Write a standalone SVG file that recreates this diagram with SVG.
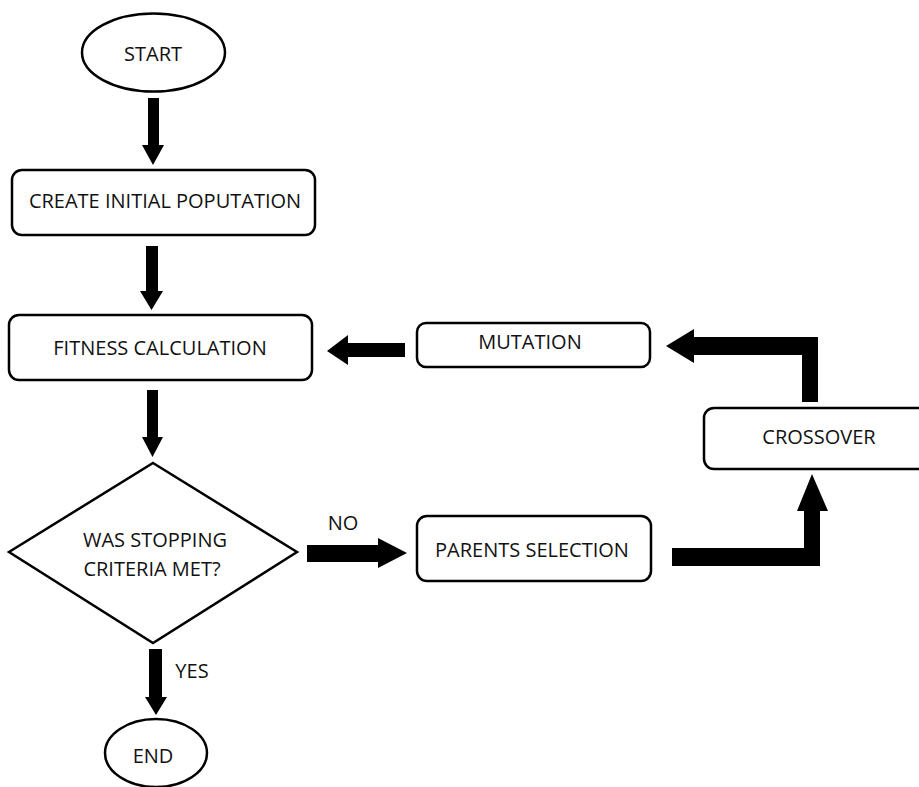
<svg xmlns="http://www.w3.org/2000/svg" width="919" height="787" viewBox="0 0 919 787">
<style>
.shape{fill:#fff;stroke:#000;stroke-width:2.5}
.lbl{font-family:"Open Sans","Liberation Sans",sans-serif;font-size:20px;fill:#111;text-anchor:middle}
.arr{fill:#000;stroke:none}
</style>
<rect width="919" height="787" fill="#fff"/>
<g id="connectors">
<polygon class="arr" points="148,98 159,98 159,145 164,145 153,165 142,145 148,145"/>
<polygon class="arr" points="146,246 158,246 158,291 163,291 151.5,310 140,291 146,291"/>
<polygon class="arr" points="147,390 158,390 158,437 163,437 152.5,457 142,437 147,437"/>
<polygon class="arr" points="149,649 162,649 162,697 167,697 156,715 145,697 149,697"/>
<polygon class="arr" points="405,343 405,357 348,357 348,365 327,351 348,335 348,343"/>
<polygon class="arr" points="307,545 378,545 378,538 407,553 378,568 378,562 307,562"/>
<polygon class="arr" points="802,402 818,402 818,337 694,337 694,329 666,346 694,363 694,355 802,355"/>
<polygon class="arr" points="672,548 804,548 804,511 797,511 812,474 828,511 820,511 820,566 672,566"/>
<text class="lbl" x="343" y="530">NO</text>
<text class="lbl" x="192" y="678">YES</text>
</g>
<g id="start">
<ellipse class="shape" cx="153.5" cy="52.5" rx="71.5" ry="39"/>
<text class="lbl" x="153" y="61">START</text>
</g>
<g id="create">
<rect class="shape" x="12" y="170" width="303" height="65" rx="10"/>
<text class="lbl" x="165" y="208">CREATE INITIAL POPUTATION</text>
</g>
<g id="fitness">
<rect class="shape" x="9" y="315" width="303" height="65" rx="10"/>
<text class="lbl" x="160" y="355">FITNESS CALCULATION</text>
</g>
<g id="decision">
<polygon class="shape" points="153,463 297,552 153,643 9,552"/>
<text class="lbl" x="155" y="547">WAS STOPPING</text>
<text class="lbl" x="152" y="576">CRITERIA MET?</text>
</g>
<g id="end">
<ellipse class="shape" cx="156" cy="753" rx="51" ry="34"/>
<text class="lbl" x="153" y="763">END</text>
</g>
<g id="mutation">
<rect class="shape" x="417" y="323" width="233" height="44" rx="9"/>
<text class="lbl" x="530" y="349">MUTATION</text>
</g>
<g id="crossover">
<rect class="shape" x="704" y="408" width="230" height="61" rx="10"/>
<text class="lbl" x="819" y="444">CROSSOVER</text>
</g>
<g id="parents">
<rect class="shape" x="417" y="516" width="234" height="65" rx="10"/>
<text class="lbl" x="532" y="557">PARENTS SELECTION</text>
</g>
</svg>
